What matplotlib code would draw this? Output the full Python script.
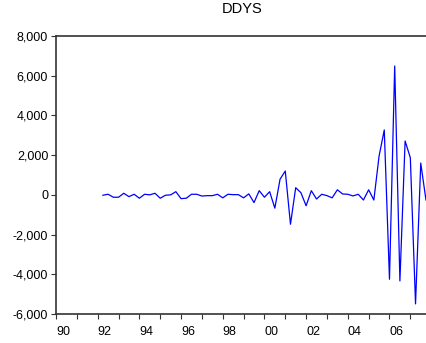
import numpy as np
import matplotlib
matplotlib.use("Agg")
import matplotlib.pyplot as plt
import matplotlib.transforms as mtransforms
from matplotlib.ticker import FuncFormatter, MultipleLocator

plt.rcParams['font.family'] = ['Liberation Sans', 'DejaVu Sans']

# quarterly series, first observation 1992Q2
start = 1992.25
ddys = [-20, 30, -120, -120, 80, -90, 30, -170, 30, 0,
        80, -170, -20, 0, 160, -190, -170, 30, 30, -60,
        -40, -40, 30, -150, 30, 10, 10, -150, 50, -390,
        210, -120, 160, -670, 790, 1200, -1480, 360, 110, -550,
        210, -210, 30, -40, -150, 255, 45, 30, -55, 30,
        -260, 255, -260, 1950, 3270, -4250, 6490, -4335, 2714, 1870,
        -5490, 1600, -260]
xlabels = ['90', '92', '94', '96', '98', '00', '02', '04', '06']
xlabel_years = [1990, 1992, 1994, 1996, 1998, 2000, 2002, 2004, 2006]
yticks = [-6000, -4000, -2000, 0, 2000, 4000, 6000, 8000]

t = start + 0.25 * np.arange(len(ddys))

fig = plt.figure(figsize=(4.27, 3.43), dpi=100)
ax = fig.add_axes([56 / 427, 1 - 314 / 343, 371 / 427, 278 / 343])

ax.plot(t, ddys, color='#0000ff', lw=0.9)

ax.set_xlim(1990, 2007.8)
ax.set_ylim(-6000, 8000)

ax.set_yticks(yticks)
ax.yaxis.set_major_formatter(FuncFormatter(lambda v, p: f'{int(v):,}'))
ax.set_xticks(xlabel_years)
ax.set_xticklabels(xlabels, ha='left')
ax.xaxis.set_minor_locator(MultipleLocator(1))

# nudge year labels a little right of their tick
shift = mtransforms.ScaledTranslation(2 / 100, 0, fig.dpi_scale_trans)
for lab in ax.get_xticklabels():
    lab.set_transform(lab.get_transform() + shift)

for s in ['top', 'left', 'bottom']:
    ax.spines[s].set_color('#333333')
    ax.spines[s].set_linewidth(1.2)
ax.spines['right'].set_visible(False)

ax.tick_params(axis='both', which='both', direction='out', length=3.6,
               width=0.8, color='#333333', labelsize=9)
ax.tick_params(axis='y', pad=2)
ax.tick_params(axis='x', pad=5)

fig.text(242 / 427, 1 - 13 / 343, 'DDYS', ha='center', va='baseline', fontsize=10.5)

fig.savefig('out.png', dpi=100)
